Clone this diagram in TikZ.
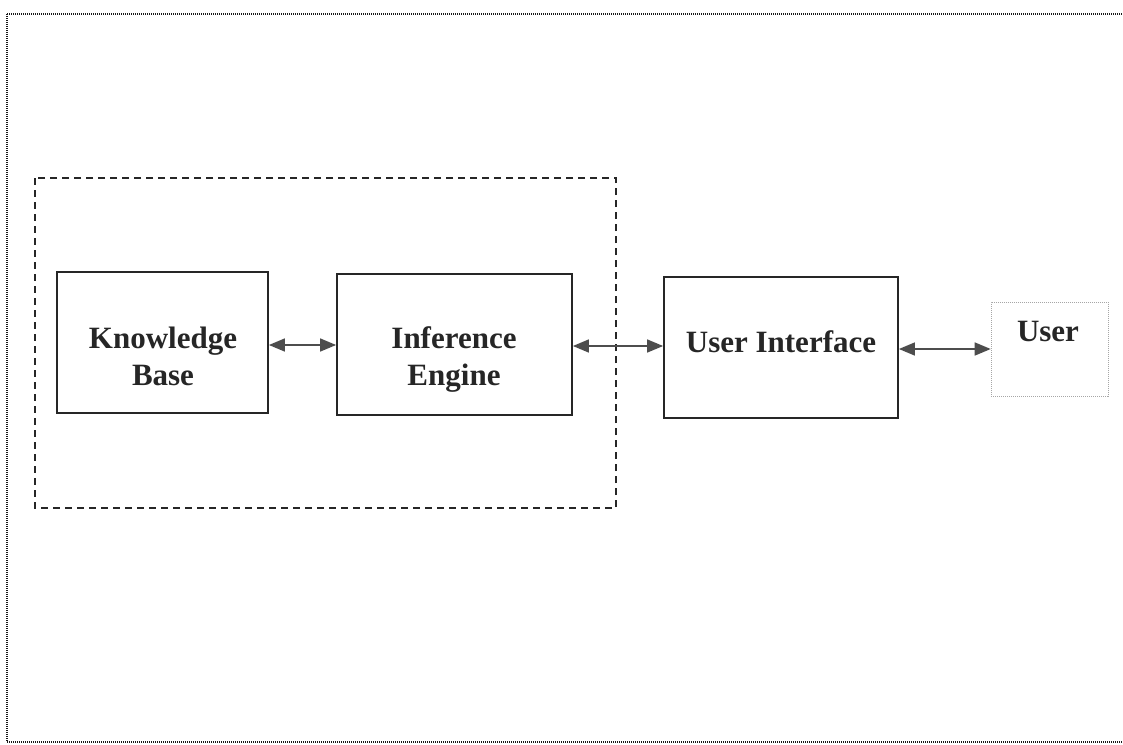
\documentclass[tikz,border=0pt]{standalone}
\usepackage{fontspec}
\setmainfont{Liberation Serif}
\usetikzlibrary{arrows.meta}
\definecolor{ink}{HTML}{262626}
\definecolor{linkgrey}{HTML}{4d4d4d}
\tikzset{
  block/.style={draw=ink, line width=1.8pt, inner sep=0pt},
  userbox/.style={draw=black!35, line width=0.6pt, dash pattern=on 1.2pt off 0.8pt, inner sep=0pt},
  lbl/.style={text=ink, font=\bfseries\fontsize{31}{37}\selectfont, align=center, inner sep=0pt},
  link/.style={draw=linkgrey, line width=1.5pt,
    {Triangle[length=16pt,width=13pt,fill=linkgrey]}-{Triangle[length=16pt,width=13pt,fill=linkgrey]}},
  frame/.style={draw=black!90, line width=1.2pt, dash pattern=on 1pt off 1pt},
  group/.style={draw=black!85, line width=1.5pt, dash pattern=on 7pt off 5pt}
}
\begin{document}
\begin{tikzpicture}[x=1pt,y=-1pt]
\useasboundingbox (0,0) rectangle (1123,744);
\fill[white] (0,0) rectangle (1123,744);
% page frame
\draw[frame] (7,14) -- (1126,14) (7,14) -- (7,742) -- (1126,742);
% group around knowledge base and inference engine
\draw[group] (35,178) rectangle (616,508);
% blocks
\node[block, minimum width=211pt, minimum height=141pt] (kb) at (162.5,342.5) {};
\node[block, minimum width=235pt, minimum height=141pt] (ie) at (454.5,344.5) {};
\node[block, minimum width=234pt, minimum height=141pt] (ui) at (781,347.5) {};
\node[userbox, minimum width=117pt, minimum height=94pt] (us) at (1049.5,349) {};
% labels
\node[lbl] (kbt) at (163,356) {Knowledge\\Base};
\node[lbl] (iet) at (454,360) {Inference\\Engine};
\node[lbl] (uit) at (781,342) {User Interface};
\node[lbl] (ust) at (1048,331) {User};
% connectors
\draw[link] ([yshift=-2.5pt]kb.east) -- ([yshift=-0.5pt]ie.west);
\draw[link] ([yshift=-1.5pt]ie.east) -- ([yshift=1.5pt]ui.west);
\draw[link] ([yshift=-1.5pt]ui.east) -- (us.west);
\end{tikzpicture}
\end{document}
